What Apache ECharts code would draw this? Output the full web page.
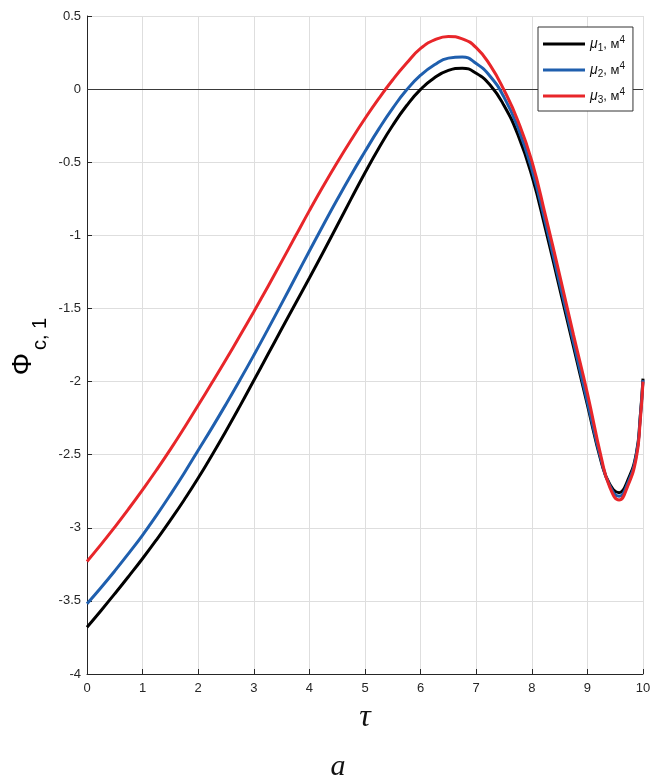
<!DOCTYPE html>
<html>
<head>
<meta charset="utf-8">
<script src="https://cdn.jsdelivr.net/npm/echarts@6/dist/echarts.min.js"></script>
<style>
html,body{margin:0;padding:0;background:#fff;}
#chart{width:661px;height:780px;}
</style>
</head>
<body>
<div id="chart"></div>
<script>
// ---- data ----
const tau = [0, 0.25, 0.5, 0.75, 1, 1.25, 1.5, 1.75, 2, 2.25, 2.5, 2.75, 3, 3.25, 3.5, 3.75, 4, 4.25, 4.5, 4.75, 5, 5.25, 5.5, 5.75, 6, 6.25, 6.5, 6.75, 7, 7.25, 7.5, 7.75, 8, 8.25, 8.5, 8.75, 9, 9.25, 9.4, 9.57, 9.72, 9.88, 9.95, 10];
const mu1 = [-3.68, -3.567, -3.451, -3.332, -3.21, -3.082, -2.948, -2.808, -2.66, -2.502, -2.338, -2.168, -1.993, -1.817, -1.641, -1.466, -1.292, -1.114, -0.933, -0.751, -0.572, -0.402, -0.247, -0.112, -0.002, 0.078, 0.128, 0.143, 0.108, 0.028, -0.112, -0.312, -0.592, -0.962, -1.362, -1.762, -2.16, -2.55, -2.70, -2.76, -2.68, -2.49, -2.24, -1.98];
const mu2 = [-3.52, -3.41, -3.295, -3.175, -3.05, -2.915, -2.773, -2.625, -2.47, -2.315, -2.155, -1.99, -1.82, -1.645, -1.467, -1.287, -1.107, -0.929, -0.755, -0.587, -0.427, -0.272, -0.13, -0.005, 0.095, 0.167, 0.212, 0.22, 0.175, 0.088, -0.055, -0.262, -0.547, -0.922, -1.327, -1.732, -2.14, -2.54, -2.71, -2.785, -2.70, -2.50, -2.25, -1.99];
const mu3 = [-3.23, -3.115, -2.995, -2.87, -2.74, -2.605, -2.464, -2.316, -2.162, -2.007, -1.849, -1.687, -1.522, -1.353, -1.18, -1.005, -0.831, -0.663, -0.502, -0.348, -0.201, -0.063, 0.064, 0.178, 0.278, 0.336, 0.36, 0.344, 0.284, 0.164, -0.006, -0.216, -0.491, -0.871, -1.271, -1.681, -2.08, -2.52, -2.72, -2.81, -2.72, -2.52, -2.27, -2.00];
const seriesNames = ['μ1, м4', 'μ2, м4', 'μ3, м4'];
const seriesColors = ['#000000', '#1f5fae', '#e8262a'];
const xTicks = {min: 0, max: 10, interval: 1};
const yTicks = {min: -4, max: 0.5, interval: 0.5};

const FONT = '"Liberation Sans", Arial, Helvetica, sans-serif';
const SERIF = '"Liberation Serif", "Times New Roman", serif';

function pairs(ys) { return tau.map((t, i) => [t, ys[i]]); }
const allY = [mu1, mu2, mu3];

const chart = echarts.init(document.getElementById('chart'), null, {renderer: 'canvas'});
const series = allY.map((ys, k) => ({
  name: seriesNames[k],
  type: 'line',
  data: pairs(ys),
  smooth: 0.5,
  showSymbol: false,
  symbol: 'none',
  lineStyle: {color: seriesColors[k], width: 3},
  itemStyle: {color: seriesColors[k]},
  z: 3 + k,
  animation: false,
  markLine: k === 0 ? {
    silent: true,
    symbol: 'none',
    label: {show: false},
    lineStyle: {color: '#3a3a3a', width: 1, type: 'solid'},
    data: [{yAxis: 0}],
    z: 2
  } : undefined
}));

chart.setOption({
  animation: false,
  backgroundColor: '#ffffff',
  grid: {left: 87, right: 18, top: 16, bottom: 106, containLabel: false},
  xAxis: {
    type: 'value', min: xTicks.min, max: xTicks.max, interval: xTicks.interval,
    name: 'τ', nameLocation: 'middle', nameGap: 28,
    nameTextStyle: {fontFamily: SERIF, fontStyle: 'italic', fontSize: 32, color: '#111'},
    axisLine: {show: true, onZero: false, lineStyle: {color: '#262626', width: 1}},
    axisTick: {show: true, inside: true, length: 5, lineStyle: {color: '#262626'}},
    axisLabel: {fontFamily: FONT, fontSize: 13, color: '#262626', margin: 8},
    splitLine: {show: true, lineStyle: {color: '#dedede', width: 1}}
  },
  yAxis: {
    type: 'value', min: yTicks.min, max: yTicks.max, interval: yTicks.interval,
    axisLine: {show: true, onZero: false, lineStyle: {color: '#262626', width: 1}},
    axisTick: {show: true, inside: true, length: 5, lineStyle: {color: '#262626'}},
    axisLabel: {fontFamily: FONT, fontSize: 13, color: '#262626', margin: 6},
    splitLine: {show: true, lineStyle: {color: '#dedede', width: 1}}
  },
  legend: {
    show: true,
    orient: 'vertical',
    left: 538, top: 27,
    padding: [8, 8, 6, 5],
    itemGap: 8,
    itemWidth: 42, itemHeight: 3,
    icon: 'rect',
    backgroundColor: '#ffffff',
    borderColor: '#333333', borderWidth: 1,
    data: seriesNames,
    formatter: function (name) {
      const i = seriesNames.indexOf(name) + 1;
      return '{mu|μ}{sub|' + i + '}{t|, м}{sup|4}';
    },
    textStyle: {
      fontFamily: FONT, color: '#111', padding: [0, 0, 0, 0],
      rich: {
        mu: {fontFamily: FONT, fontStyle: 'italic', fontSize: 14, lineHeight: 18, color: '#111'},
        t: {fontFamily: FONT, fontSize: 13, lineHeight: 18, color: '#111'},
        sub: {fontFamily: FONT, fontSize: 10, lineHeight: 10, verticalAlign: 'bottom', color: '#111'},
        sup: {fontFamily: FONT, fontSize: 10, lineHeight: 10, verticalAlign: 'top', color: '#111'}
      }
    }
  },
  graphic: [
    {type: 'text', x: 23, y: 364, rotation: Math.PI / 2,
      style: {text: 'Φ', fontSize: 28, fontFamily: FONT, fill: '#000', align: 'center', verticalAlign: 'middle'}},
    {type: 'text', x: 40, y: 334, rotation: Math.PI / 2,
      style: {text: 'c, 1', fontSize: 20, fontFamily: FONT, fill: '#000', align: 'center', verticalAlign: 'middle'}},
    {type: 'text', x: 338, y: 767,
      style: {text: 'a', fontSize: 30, fontFamily: SERIF, fontStyle: 'italic', fill: '#111', align: 'center', verticalAlign: 'middle'}}
  ],
  series: series
});
</script>
</body>
</html>
